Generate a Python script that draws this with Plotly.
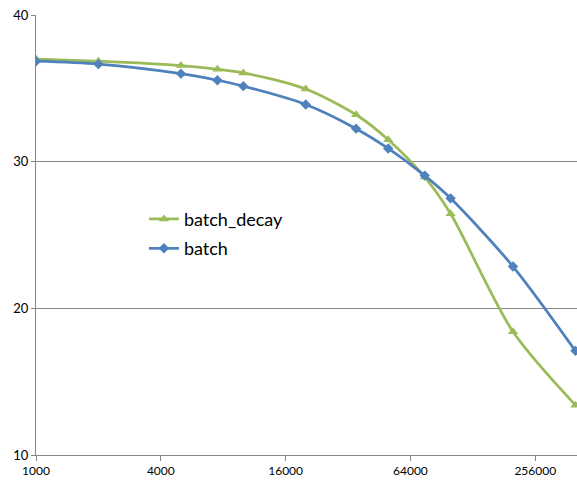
import math
import plotly.graph_objects as go

x_vals = [1000, 2000, 5000, 7500, 10000, 20000, 35000, 50000, 75000, 100000, 200000, 400000]
batch_decay = [37.0, 36.85, 36.55, 36.3, 36.05, 34.95, 33.2, 31.5, 28.95, 26.45, 18.4, 13.4]
batch = [36.85, 36.65, 36.0, 35.55, 35.15, 33.9, 32.25, 30.9, 29.05, 27.5, 22.85, 17.1]
x_ticks = [1000, 4000, 16000, 64000, 256000]
y_ticks = [10, 20, 30, 40]

fig = go.Figure()
fig.add_trace(go.Scatter(
    x=x_vals, y=batch_decay, name="batch_decay", mode="lines+markers",
    legendgroup="a",
    line=dict(color="#9BBB59", width=2.75, shape="spline", smoothing=0.8),
    marker=dict(symbol="triangle-up", size=9, color="#9BBB59"),
))
fig.add_trace(go.Scatter(
    x=x_vals, y=batch, name="batch", mode="lines+markers",
    legendgroup="b",
    line=dict(color="#4F81BD", width=2.75, shape="spline", smoothing=0.8),
    marker=dict(symbol="diamond", size=8, color="#4F81BD"),
))

fig.update_layout(
    width=577, height=481,
    margin=dict(l=36, r=0, t=15, b=26),
    paper_bgcolor="white", plot_bgcolor="white",
    font=dict(family="Lato, Liberation Sans, sans-serif", color="#000000", size=12),
    legend=dict(
        x=0.1995, y=0.578, xanchor="left", yanchor="top",
        font=dict(size=18, color="#000000"),
        bgcolor="rgba(0,0,0,0)", tracegroupgap=3,
        traceorder="grouped", itemwidth=30,
    ),
    showlegend=True,
)
fig.update_xaxes(
    type="log", range=[3, math.log10(407000)],
    tickvals=x_ticks, ticktext=[str(v) for v in x_ticks],
    showgrid=False, showline=True, linecolor="#868686", linewidth=1,
    ticks="outside", ticklen=5, tickcolor="#868686",
    tickfont=dict(size=12, color="#000000"), zeroline=False,
)
fig.update_yaxes(
    range=[10, 40], tickvals=y_ticks,
    showgrid=True, gridcolor="#868686", gridwidth=1,
    showline=True, linecolor="#868686", linewidth=1,
    ticks="outside", ticklen=4, tickcolor="#868686",
    tickfont=dict(size=13, color="#000000"), zeroline=False,
)

fig.write_html("out.html", config={"displayModeBar": False},
               post_script="document.body.style.margin='0';")
